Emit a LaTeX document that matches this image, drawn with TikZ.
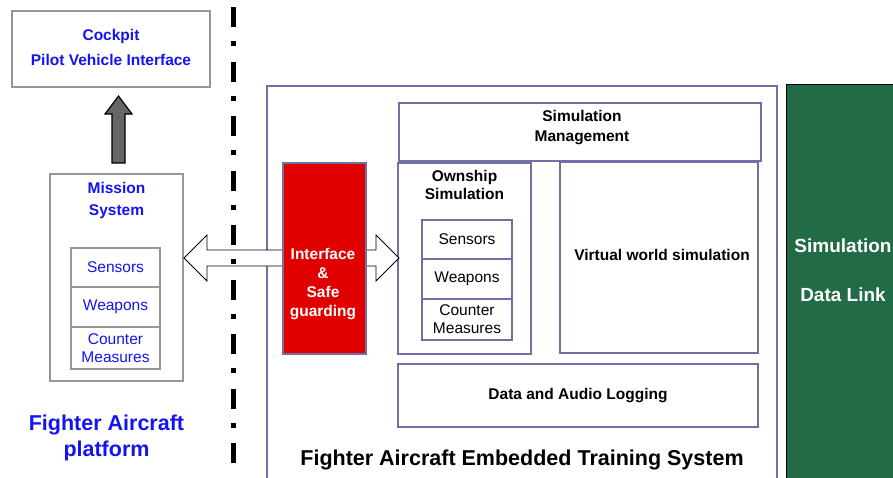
\documentclass[tikz,border=0pt]{standalone}
\usepackage{fontspec}
\setmainfont{Liberation Sans}
\usetikzlibrary{positioning}

\definecolor{frameblue}{RGB}{112,112,164}
\definecolor{platgray}{RGB}{150,150,150}
\definecolor{textblue}{RGB}{20,20,240}
\definecolor{guardred}{RGB}{224,0,0}
\definecolor{linkgreen}{RGB}{34,107,71}
\definecolor{arrowgray}{RGB}{102,102,102}

\tikzset{
	platbox/.style={draw=platgray, line width=1.6pt, fill=white, inner sep=0},
	platpart/.style={draw=platgray, line width=2.6pt, fill=white, inner sep=0,
		font=\fontsize{15.5}{18}\selectfont, text=textblue, align=center},
	simbox/.style={draw=frameblue, line width=1.8pt, fill=white, inner sep=0,
		font=\bfseries\fontsize{15.5}{20}\selectfont, align=center},
	simpart/.style={draw=frameblue, line width=2.6pt, fill=white, inner sep=0,
		font=\fontsize{15.5}{18}\selectfont, align=center},
	bluetitle/.style={font=\bfseries\fontsize{15.5}{22}\selectfont, text=textblue, align=center},
	bigtitle/.style={font=\bfseries\fontsize{21.5}{26}\selectfont, align=center}
}

\begin{document}
\begin{tikzpicture}[x=1pt, y=-1pt]
	\useasboundingbox (0,0) rectangle (893,477);

	% aircraft side
	\node[platbox, minimum width=198, minimum height=76] (cockpit) at (111,49) {};
	\node[bluetitle, font=\bfseries\fontsize{15.5}{25}\selectfont] (cockpittext) at (111,47) {Cockpit\\Pilot Vehicle Interface};
	\node[platbox, minimum width=133, minimum height=207] (mission) at (116.5,277.5) {};
	\node[bluetitle, anchor=north] (missiontitle) at ([yshift=-6pt]mission.north) {Mission\\System};
	\node[platpart, minimum width=89, minimum height=39] (msensors) at (115.5,267.5) {Sensors};
	\node[platpart, minimum width=89, minimum height=40] (mweapons) at (115.5,307) {Weapons};
	\node[platpart, minimum width=89, minimum height=42] (mcounter) at (115.5,348) {Counter\\Measures};
	\node[bigtitle, text=textblue] (platform) at (106.5,437.5) {Fighter Aircraft\\platform};

	\filldraw[draw=black, fill=arrowgray, line width=1.2pt]
		(112,163) -- (112,114) -- (105,114) -- (118.5,96) -- (132,114) -- (125,114) -- (125,163) -- cycle;

	% training system
	\draw[frameblue, line width=1.5pt] (267,490) -- (267,86) -- (777,86) -- (777,490);
	\filldraw[draw=black, fill=linkgreen, line width=1pt] (786,84) rectangle (900,490);
	\node[font=\bfseries\fontsize{19}{49}\selectfont, text=white, align=center] (datalink) at (843,270) {Simulation\\Data Link};

	\node[simbox, minimum width=362, minimum height=58] (simmgmt) at (580,132) {};
	\node[font=\bfseries\fontsize{15.5}{20}\selectfont, align=center] (simmgmttext) at (582,128) {Simulation\\Management};
	\node[simbox, minimum width=133, minimum height=191] (ownship) at (464.5,258.5) {};
	\node[simbox, anchor=north, draw=none, fill=none, font=\bfseries\fontsize{15.5}{18}\selectfont]
		(ownshiptitle) at ([yshift=-7pt]ownship.north) {Ownship\\Simulation};
	\node[simpart, minimum width=90, minimum height=39] (osensors) at (467,239.5) {Sensors};
	\node[simpart, minimum width=90, minimum height=40] (oweapons) at (467,279) {Weapons};
	\node[simpart, minimum width=90, minimum height=41] (ocounter) at (467,319.5) {Counter\\Measures};
	\node[simbox, minimum width=198, minimum height=191] (virtual) at (659,257.5) {};
	\node[font=\bfseries\fontsize{15.5}{20}\selectfont] (virtualtext) at (662,254.5) {Virtual world simulation};
	\node[simbox, minimum width=360, minimum height=63] (logging) at (578,395.5) {Data and Audio Logging};

	% interface arrow, behind the red block
	\filldraw[draw=black, fill=white, line width=0.8pt]
		(184,258) -- (207,235) -- (207,250) -- (376,250) -- (376,235) -- (399,258)
		-- (376,281) -- (376,266) -- (207,266) -- (207,281) -- cycle;
	\node[simbox, fill=guardred, minimum width=83, minimum height=191] (guard) at (324.5,258.5) {};
	\node[font=\bfseries\fontsize{15.5}{19.3}\selectfont, text=white, align=center] (guardtext) at (323,284)
		{Interface\\\&\\Safe\\guarding};

	\node[bigtitle] (etstitle) at (522,459.5) {Fighter Aircraft Embedded Training System};

	% border between aircraft and ground
	\draw[line width=5pt, dash pattern=on 20pt off 14pt on 5pt off 15.5pt] (233.5,7) -- (233.5,477);
\end{tikzpicture}
\end{document}
